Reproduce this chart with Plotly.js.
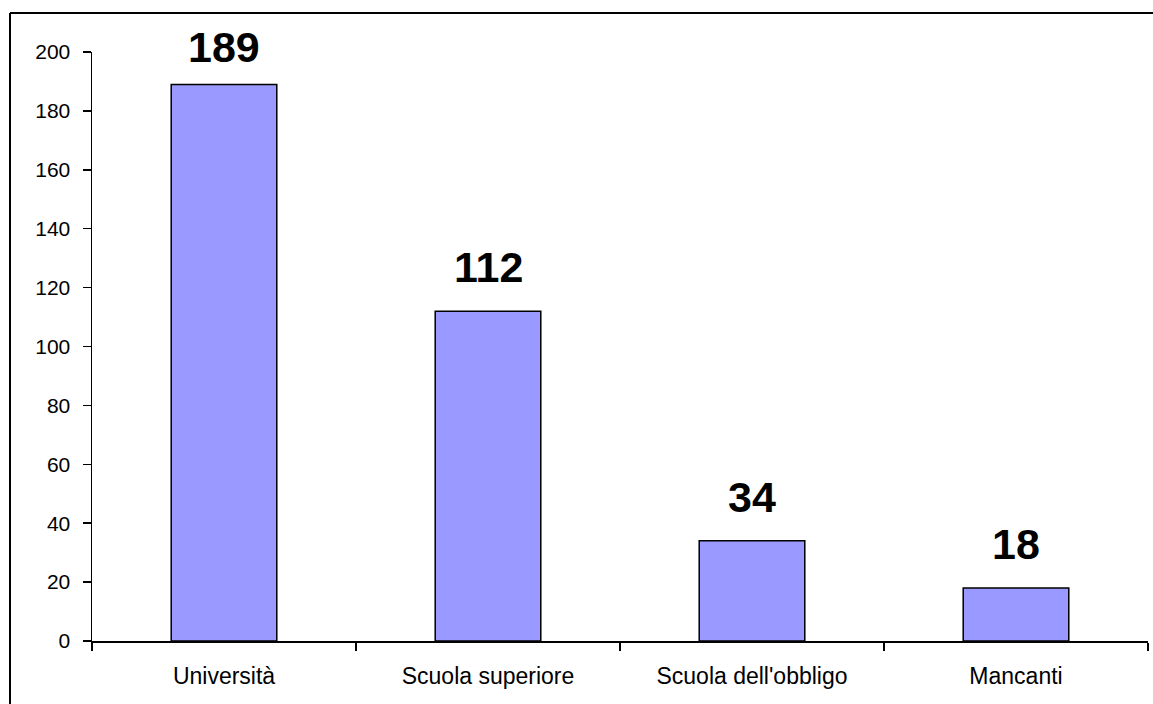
<!DOCTYPE html>
<html>
<head>
<meta charset="utf-8">
<script src="https://cdn.plot.ly/plotly-3.0.1.min.js"></script>
<style>
  html, body { margin: 0; padding: 0; background: #fff; }
  #chart { width: 1153px; height: 704px; }
</style>
</head>
<body>
<div id="chart"></div>
<script>
const categories = ["Università", "Scuola superiore", "Scuola dell'obbligo", "Mancanti"];
const values = [189, 112, 34, 18];
const yTickValues = [0, 20, 40, 60, 80, 100, 120, 140, 160, 180, 200];

const FONT = '"Liberation Sans", Arial, sans-serif';

const L = 92, R = 1148, T = 52, B = 641;
const W = R - L, H = B - T;
const Y_MAX = 200;

const trace = {
  type: 'bar',
  x: categories,
  y: values,
  width: 0.4,
  marker: { color: '#9999FF', line: { color: '#000000', width: 1.5 } },
  hoverinfo: 'x+y'
};

// labels sit above the bar; pushed down when they would leave the chart area
function labelShift(v) {
  const spaceAbove = (Y_MAX - v) * H / Y_MAX + T;
  return Math.min(18, spaceAbove - 73);
}

const annotations = categories.map((c, i) => ({
  x: c, y: values[i], xref: 'x', yref: 'y',
  text: String(values[i]),
  showarrow: false,
  yanchor: 'bottom',
  yshift: labelShift(values[i]),
  font: { family: FONT, size: 43, color: '#000', weight: 'bold' }
}));

const shapes = [
  { type: 'line', xref: 'paper', yref: 'paper',
    x0: (10 - L) / W, x1: (1160 - L) / W, y0: (B - 13) / H, y1: (B - 13) / H,
    line: { color: '#000', width: 2 } },
  { type: 'line', xref: 'paper', yref: 'paper',
    x0: (10 - L) / W, x1: (10 - L) / W, y0: (B - 13) / H, y1: (B - 720) / H,
    line: { color: '#000', width: 2 } }
];

const layout = {
  width: 1153, height: 704,
  margin: { l: L, r: 1153 - R, t: T, b: 704 - B },
  paper_bgcolor: '#fff', plot_bgcolor: '#fff',
  showlegend: false,
  bargap: 0.6,
  font: { family: FONT, color: '#000' },
  xaxis: {
    type: 'category',
    tickson: 'boundaries',
    ticks: 'outside', ticklen: 8, tickwidth: 1.5, tickcolor: '#000',
    showline: true, linecolor: '#000', linewidth: 1.5,
    showgrid: false, zeroline: false,
    tickfont: { family: FONT, size: 23, color: '#000' },
    ticklabelstandoff: 14
  },
  yaxis: {
    range: [0, Y_MAX],
    tickvals: yTickValues,
    ticks: 'outside', ticklen: 8, tickwidth: 1.5, tickcolor: '#000',
    showline: true, linecolor: '#000', linewidth: 1.5,
    showgrid: false, zeroline: false,
    tickfont: { family: FONT, size: 21, color: '#000' },
    ticklabelstandoff: 8
  },
  annotations: annotations,
  shapes: shapes
};

Plotly.newPlot('chart', [trace], layout, { displayModeBar: false, staticPlot: true });
</script>
</body>
</html>
